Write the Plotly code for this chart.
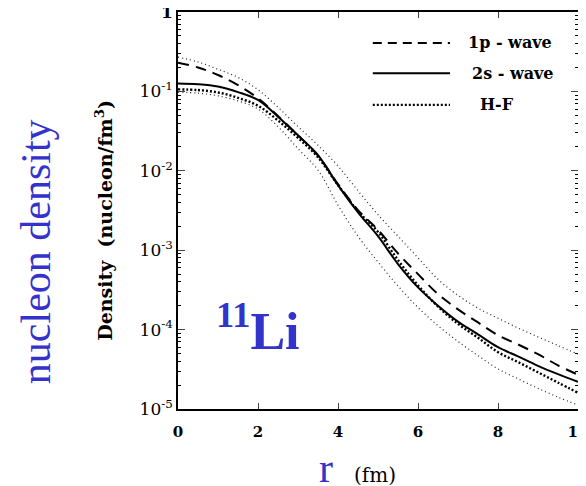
import plotly.graph_objects as go

# radius (fm)
r = [0, 0.5, 1, 1.5, 2, 2.5, 3, 3.5, 4, 4.5, 5, 5.5, 6, 6.5, 7, 7.5, 8, 8.5, 9, 9.5, 10]

# densities (nucleon/fm^3)
wave_1p = [0.23, 0.20, 0.161, 0.12, 0.082, 0.049, 0.028, 0.0155, 0.0068, 0.0032, 0.0018,
           9.1e-4, 5.0e-4, 2.8e-4, 1.8e-4, 1.23e-4, 8.5e-5, 6.5e-5, 4.9e-5, 3.55e-5, 2.7e-5]
wave_2s = [0.126, 0.123, 0.115, 0.098, 0.078, 0.048, 0.028, 0.0158, 0.0066, 0.0030, 0.0015,
           6.7e-4, 3.4e-4, 2.0e-4, 1.26e-4, 8.7e-5, 6.0e-5, 4.6e-5, 3.5e-5, 2.75e-5, 2.2e-5]
hf = [0.106, 0.104, 0.097, 0.083, 0.066, 0.043, 0.026, 0.0148, 0.0066, 0.0031, 0.0017,
      7.5e-4, 3.6e-4, 1.95e-4, 1.18e-4, 7.9e-5, 5.2e-5, 3.9e-5, 2.9e-5, 2.15e-5, 1.6e-5]
band_upper = [0.27, 0.235, 0.19, 0.15, 0.105, 0.063, 0.036, 0.021, 0.0115, 0.0056, 0.0028,
              0.0015, 8.0e-4, 4.3e-4, 2.7e-4, 1.86e-4, 1.39e-4, 1.05e-4, 8.1e-5, 6.3e-5, 4.9e-5]
band_lower = [0.098, 0.095, 0.088, 0.076, 0.060, 0.036, 0.019, 0.0102, 0.0037, 0.0015, 7.1e-4,
              3.55e-4, 1.9e-4, 1.12e-4, 7.1e-5, 4.7e-5, 3.2e-5, 2.4e-5, 1.82e-5, 1.41e-5, 1.12e-5]

ytick_vals = [1, 0.1, 0.01, 0.001, 1e-4, 1e-5]
ytick_text = ["<b>1</b>", "10<sup>-1</sup>", "10<sup>-2</sup>", "10<sup>-3</sup>",
              "10<sup>-4</sup>", "10<sup>-5</sup>"]
xtick_vals = [0, 2, 4, 6, 8, 10]
xtick_text = ["<b>0</b>", "<b>2</b>", "<b>4</b>", "<b>6</b>", "<b>8</b>", "<b>10</b>"]
legend_labels = ["1p - wave", "2s - wave", "H-F"]

SERIF = "DejaVu Serif"
BLUE = "#3333CC"

fig = go.Figure()
common = dict(x=r, mode="lines", showlegend=False, line_shape="spline")
fig.add_trace(go.Scatter(y=band_upper, line=dict(color="#222", width=1.2, dash="1px,3px"), **common))
fig.add_trace(go.Scatter(y=band_lower, line=dict(color="#222", width=1.2, dash="1px,3px"), **common))
fig.add_trace(go.Scatter(y=hf, line=dict(color="black", width=2.4, dash="2px,2px"), **common))
fig.add_trace(go.Scatter(y=wave_2s, line=dict(color="black", width=2), **common))
fig.add_trace(go.Scatter(y=wave_1p, line=dict(color="black", width=2, dash="11px,7px"), **common))

fig.update_xaxes(range=[0, 10], tickvals=xtick_vals, ticktext=xtick_text, ticks="inside", ticklen=6,
                 showline=True, linecolor="black", linewidth=1.5, mirror="allticks",
                 showgrid=False, zeroline=False, automargin=False, ticklabelstandoff=8,
                 ticklabeloverflow="allow",
                 tickfont=dict(family=SERIF, size=15, color="black"))
fig.update_yaxes(type="log", range=[-5, 0], tickvals=ytick_vals, ticktext=ytick_text,
                 ticks="inside", ticklen=7, showline=True, linecolor="black", linewidth=1.5,
                 mirror="allticks", showgrid=False, zeroline=False, automargin=False,
                 ticklabelstandoff=0, ticklabeloverflow="allow",
                 minor=dict(ticks="inside", ticklen=3, dtick="D1", tickcolor="black", showgrid=False),
                 tickfont=dict(family=SERIF, size=17, color="black"))

# legend (drawn manually)
leg_y = [0.922, 0.846, 0.766]
leg_dash = ["dash", "solid", "dot"]
shapes = []
for yy, d in zip(leg_y, leg_dash):
    shapes.append(dict(type="line", xref="paper", yref="paper", x0=0.487, x1=0.68, y0=yy, y1=yy,
                       line=dict(color="black", width=2 if d != "dot" else 2.2,
                                 dash="9px,6px" if d == "dash" else ("2px,2px" if d == "dot" else "solid"))))
annotations = []
for yy, lab, xx in zip(leg_y, legend_labels, [0.72, 0.73, 0.75]):
    annotations.append(dict(text="<b>" + lab + "</b>", xref="paper", yref="paper", x=xx, y=yy,
                            xanchor="left", yanchor="middle", showarrow=False,
                            font=dict(family=SERIF, size=16, color="black")))

annotations += [
    dict(text="<b>Density  (nucleon/fm<sup>3</sup>)</b>", xref="paper", yref="paper",
         x=-0.185, y=0.474, textangle=-90, showarrow=False, xanchor="center", yanchor="middle",
         font=dict(family=SERIF, size=19, color="black")),
    dict(text="nucleon density", xref="paper", yref="paper", x=-0.355, y=0.395, textangle=-90,
         showarrow=False, xanchor="center", yanchor="middle",
         font=dict(family="Liberation Serif", size=42, color=BLUE)),
    dict(text="<b><sup>11</sup>Li</b>", xref="paper", yref="paper", x=0.09, y=0.205,
         showarrow=False, xanchor="left", yanchor="middle",
         font=dict(family="Liberation Serif", size=52, color=BLUE)),
    dict(text="r", xref="paper", yref="paper", x=0.37, y=-0.148, showarrow=False,
         xanchor="center", yanchor="middle",
         font=dict(family="Liberation Serif", size=42, color=BLUE)),
    dict(text="(fm)", xref="paper", yref="paper", x=0.4925, y=-0.166, showarrow=False,
         xanchor="center", yanchor="middle",
         font=dict(family=SERIF, size=20, color="black")),
]

# the page has an 8px body margin, so the figure is sized/margined to compensate
fig.update_layout(width=586, height=478, margin=dict(l=170, r=16, t=4, b=77),
                  paper_bgcolor="white", plot_bgcolor="white",
                  shapes=shapes, annotations=annotations)

fig.write_html("out.html")
